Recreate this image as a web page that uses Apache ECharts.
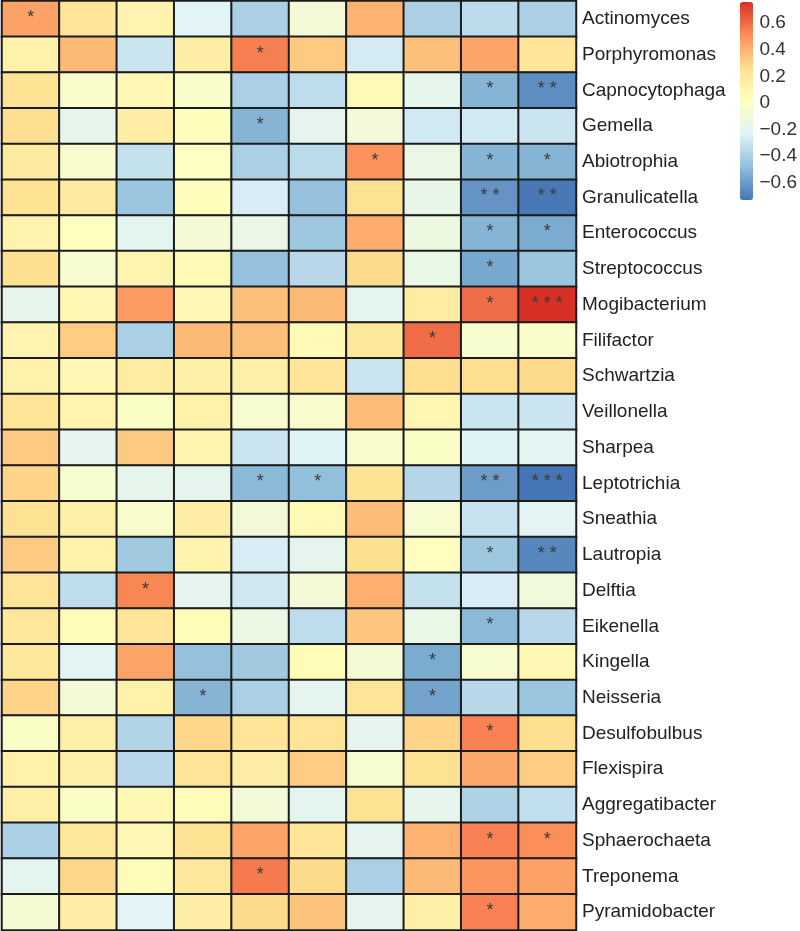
<!DOCTYPE html>
<html>
<head>
<meta charset="utf-8">
<script src="https://cdn.jsdelivr.net/npm/echarts@6/dist/echarts.min.js"></script>
<style>
html,body{margin:0;padding:0;background:#fff;}
#chart{width:800px;height:931px;}
</style>
</head>
<body>
<div id="chart"></div>
<script>
// Row categories (top to bottom)
var genera = ["Actinomyces","Porphyromonas","Capnocytophaga","Gemella","Abiotrophia","Granulicatella","Enterococcus","Streptococcus","Mogibacterium","Filifactor","Schwartzia","Veillonella","Sharpea","Leptotrichia","Sneathia","Lautropia","Delftia","Eikenella","Kingella","Neisseria","Desulfobulbus","Flexispira","Aggregatibacter","Sphaerochaeta","Treponema","Pyramidobacter"];
// Column categories (unlabelled in the figure)
var columns = ["C1","C2","C3","C4","C5","C6","C7","C8","C9","C10"];
// Correlation values, one row per genus
var values = [
  [0.45,0.22,0.10,-0.22,-0.40,-0.08,0.40,-0.40,-0.35,-0.40],
  [0.12,0.38,-0.30,0.15,0.55,0.33,-0.27,0.36,0.44,0.22],
  [0.24,-0.03,0.07,-0.03,-0.40,-0.34,0.06,-0.18,-0.52,-0.65],
  [0.27,-0.18,0.15,0.03,-0.52,-0.19,-0.10,-0.28,-0.28,-0.30],
  [0.18,-0.04,-0.32,0.00,-0.40,-0.35,0.50,-0.15,-0.52,-0.52],
  [0.24,0.18,-0.45,0.03,-0.26,-0.47,0.25,-0.17,-0.63,-0.72],
  [0.11,0.02,-0.20,-0.08,-0.15,-0.44,0.42,-0.13,-0.52,-0.55],
  [0.26,-0.06,0.10,0.06,-0.47,-0.36,0.28,-0.16,-0.56,-0.45],
  [-0.18,0.08,0.47,0.07,0.36,0.38,-0.20,0.17,0.60,0.76],
  [0.10,0.32,-0.40,0.38,0.36,0.06,0.20,0.60,-0.05,-0.03],
  [0.12,0.08,0.17,0.14,0.14,0.22,-0.30,0.27,0.27,0.28],
  [0.22,0.10,-0.02,0.13,-0.06,-0.04,0.37,0.09,-0.30,-0.30],
  [0.33,-0.19,0.33,0.10,-0.30,-0.23,-0.04,-0.02,-0.23,-0.21],
  [0.30,-0.05,-0.18,-0.19,-0.50,-0.48,0.24,-0.37,-0.60,-0.73],
  [0.25,0.14,-0.04,0.15,-0.10,0.06,0.37,-0.06,-0.31,-0.21],
  [0.33,0.12,-0.43,0.11,-0.26,-0.19,0.26,0.02,-0.44,-0.67],
  [0.23,-0.34,0.53,-0.19,-0.29,-0.08,0.41,-0.32,-0.26,-0.11],
  [0.21,0.04,0.22,0.05,-0.14,-0.34,0.34,-0.16,-0.50,-0.36],
  [0.20,-0.21,0.44,-0.47,-0.43,0.04,-0.08,-0.55,-0.06,0.07],
  [0.30,-0.08,0.13,-0.52,-0.40,-0.20,0.23,-0.58,-0.36,-0.45],
  [-0.02,0.14,-0.38,0.29,0.22,0.23,-0.19,0.30,0.54,0.27],
  [0.13,0.14,-0.36,0.23,0.15,0.32,-0.06,0.25,0.43,0.32],
  [0.14,-0.02,0.07,0.05,-0.09,-0.20,0.25,-0.18,-0.39,-0.33],
  [-0.40,0.21,0.07,0.24,0.44,0.22,-0.19,0.40,0.54,0.51],
  [-0.20,0.29,0.05,0.21,0.56,0.28,-0.40,0.38,0.49,0.45],
  [-0.07,0.15,-0.22,0.15,0.28,0.35,-0.19,0.14,0.54,0.42]
];
// Significance marks
var stars = [
  ["*","","","","","","","","",""],
  ["","","","","*","","","","",""],
  ["","","","","","","","","*","**"],
  ["","","","","*","","","","",""],
  ["","","","","","","*","","*","*"],
  ["","","","","","","","","**","**"],
  ["","","","","","","","","*","*"],
  ["","","","","","","","","*",""],
  ["","","","","","","","","*","***"],
  ["","","","","","","","*","",""],
  ["","","","","","","","","",""],
  ["","","","","","","","","",""],
  ["","","","","","","","","",""],
  ["","","","","*","*","","","**","***"],
  ["","","","","","","","","",""],
  ["","","","","","","","","*","**"],
  ["","","*","","","","","","",""],
  ["","","","","","","","","*",""],
  ["","","","","","","","*","",""],
  ["","","","*","","","","*","",""],
  ["","","","","","","","","*",""],
  ["","","","","","","","","",""],
  ["","","","","","","","","",""],
  ["","","","","","","","","*","*"],
  ["","","","","*","","","","",""],
  ["","","","","","","","","*",""]
];
// Colour scale range and legend ticks
var scaleMin = -0.73, scaleMax = 0.76;
var legendTicks = [-0.6,-0.4,-0.2,0,0.2,0.4,0.6];
var palette = ["#4575B4","#91BFDB","#E0F3F8","#FFFFBF","#FEE090","#FC8D59","#D73027"];

var data = [];
for (var r = 0; r < genera.length; r++) {
  for (var c = 0; c < columns.length; c++) {
    data.push({value:[c, r, values[r][c]], star: stars[r][c]});
  }
}

var FONT = '"Liberation Sans", Arial, Helvetica, sans-serif';
var chart = echarts.init(document.getElementById('chart'), null, {renderer:'canvas'});
chart.setOption({
  backgroundColor:'#ffffff',
  animation:false,
  grid:[
    {left:2, top:1, width:574, height:929},
    {left:740, top:2, width:13, height:198}
  ],
  xAxis:[
    {type:'category', data:columns, gridIndex:0, show:false},
    {type:'value', gridIndex:1, show:false, min:0, max:1}
  ],
  yAxis:[
    {type:'category', data:genera, gridIndex:0, inverse:true, position:'right',
     axisLine:{show:false}, axisTick:{show:false}, splitLine:{show:false},
     axisLabel:{margin:6, fontSize:19, color:'#222', fontFamily:FONT}},
    {type:'value', gridIndex:1, position:'right', min:scaleMin, max:scaleMax,
     axisLine:{show:false}, axisTick:{show:false}, splitLine:{show:false},
     axisLabel:{show:true, margin:7, fontSize:19, color:'#333', fontFamily:FONT,
       customValues:legendTicks,
       formatter:function(v){ var s = (Math.round(v*10)/10).toString(); if (s==='0') return '0'; return s.replace('-','\u2212'); }}}
  ],
  visualMap:{
    type:'continuous', min:scaleMin, max:scaleMax, seriesIndex:0,
    calculable:false, realtime:false, orient:'vertical',
    left:740, top:2, itemWidth:13, itemHeight:198, padding:0,
    text:['',''], showLabel:false, hoverLink:false,
    inRange:{color:palette}
  },
  series:[{
    type:'heatmap', xAxisIndex:0, yAxisIndex:0, data:data,
    itemStyle:{borderColor:'#1c1c1c', borderWidth:2},
    emphasis:{disabled:true},
    label:{show:true, color:'#3a3a3a', fontSize:18, fontFamily:FONT, offset:[0,-1],
      formatter:function(p){ return p.data.star ? p.data.star.split('').join(' ') : ''; }}
  }]
});
</script>
</body>
</html>
